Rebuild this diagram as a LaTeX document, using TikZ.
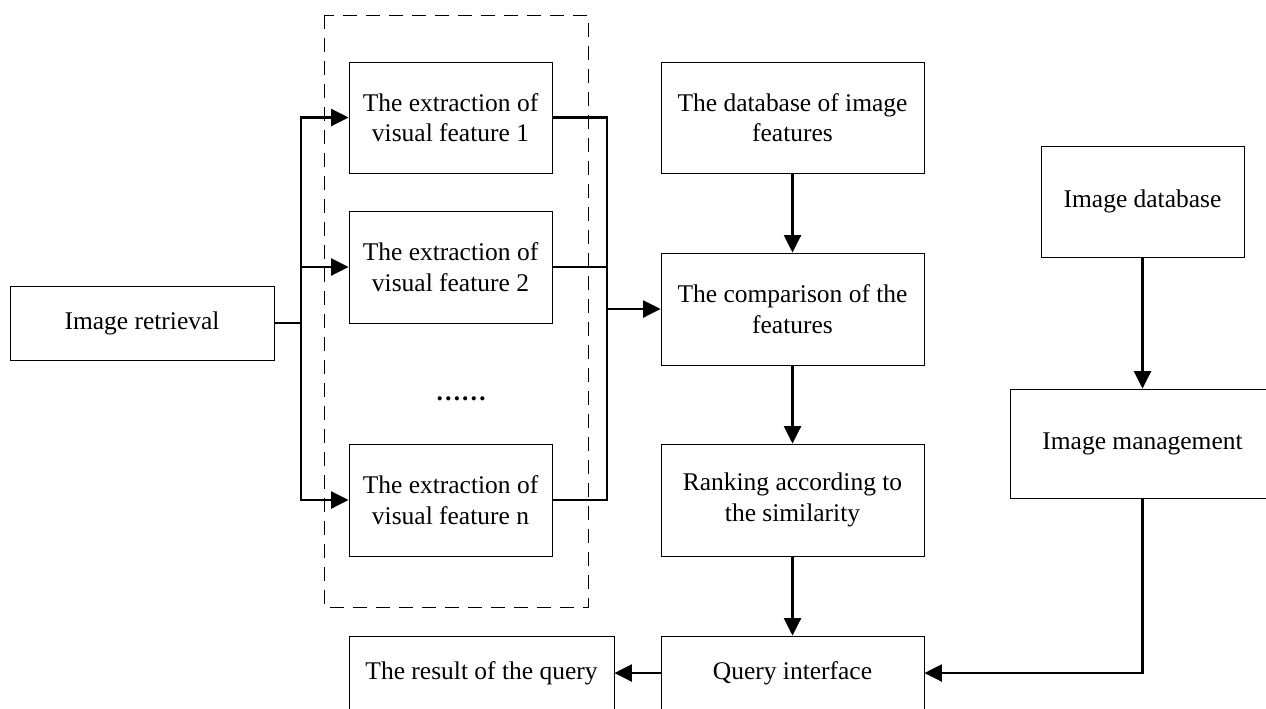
\documentclass[tikz,border=0pt]{standalone}
\usepackage{fontspec}
\setmainfont{Liberation Serif}
\usetikzlibrary{arrows.meta}
\begin{document}
\begin{tikzpicture}[x=0.02cm,y=-0.02cm,
  box/.style={draw,line width=0.5pt,align=center,inner sep=0pt,
    font=\fontsize{14.5}{17.4}\selectfont},
  link/.style={line width=1.4pt},
  arr/.style={link,-{Triangle[length=0.35cm,width=0.34cm]}}]
\useasboundingbox (0,0) rectangle (1266,708);
\draw[line width=0.5pt,dash pattern=on 0.28cm off 0.18cm] (324,15) rectangle (588,607);
\node[box,minimum width=5.28cm,minimum height=1.48cm] (retr) at (142,323) {Image retrieval};
\node[box,minimum width=4.06cm,minimum height=2.22cm] (f1) at (450.5,117.5) {The extraction of\\visual feature 1};
\node[box,minimum width=4.06cm,minimum height=2.24cm] (f2) at (450.5,267) {The extraction of\\visual feature 2};
\node[font=\fontsize{14.5}{17.4}\selectfont\bfseries] (dots) at (461,399) {……};
\node[box,minimum width=4.06cm,minimum height=2.24cm] (fn) at (450.5,500) {The extraction of\\visual feature n};
\node[box,minimum width=5.26cm,minimum height=2.22cm] (fdb) at (792.5,117.5) {The database of image\\features};
\node[box,minimum width=5.26cm,minimum height=2.24cm] (cmp) at (792.5,309) {The comparison of the\\features};
\node[box,minimum width=5.26cm,minimum height=2.24cm] (rank) at (792.5,500) {Ranking according to\\the similarity};
\node[box,minimum width=5.26cm,minimum height=1.48cm] (query) at (792.5,673) {Query interface};
\node[box,minimum width=5.3cm,minimum height=1.48cm] (result) at (481.5,673) {The result of the query};
\node[box,minimum width=4.06cm,minimum height=2.22cm] (imgdb) at (1142.5,201.5) {Image database};
\node[box,minimum width=5.28cm,minimum height=2.18cm] (mgmt) at (1142.5,443.5) {Image management};
\coordinate (split) at (301,323);
\coordinate (join) at (607,309);
\draw[link] (retr.east) -- (split);
\draw[arr] (split) |- (f1.west);
\draw[arr] (split) |- (f2.west);
\draw[arr] (split) |- (fn.west);
\draw[link] (f1.east) -| (join);
\draw[link] (f2.east) -| (join);
\draw[link] (fn.east) -| (join);
\draw[arr] (join) -- (cmp.west);
\draw[arr] (fdb) -- (cmp);
\draw[arr] (cmp) -- (rank);
\draw[arr] (rank) -- (query);
\draw[arr] (query) -- (result);
\draw[arr] (imgdb) -- (mgmt);
\draw[arr] (mgmt.south) |- (query.east);
\end{tikzpicture}
\end{document}
